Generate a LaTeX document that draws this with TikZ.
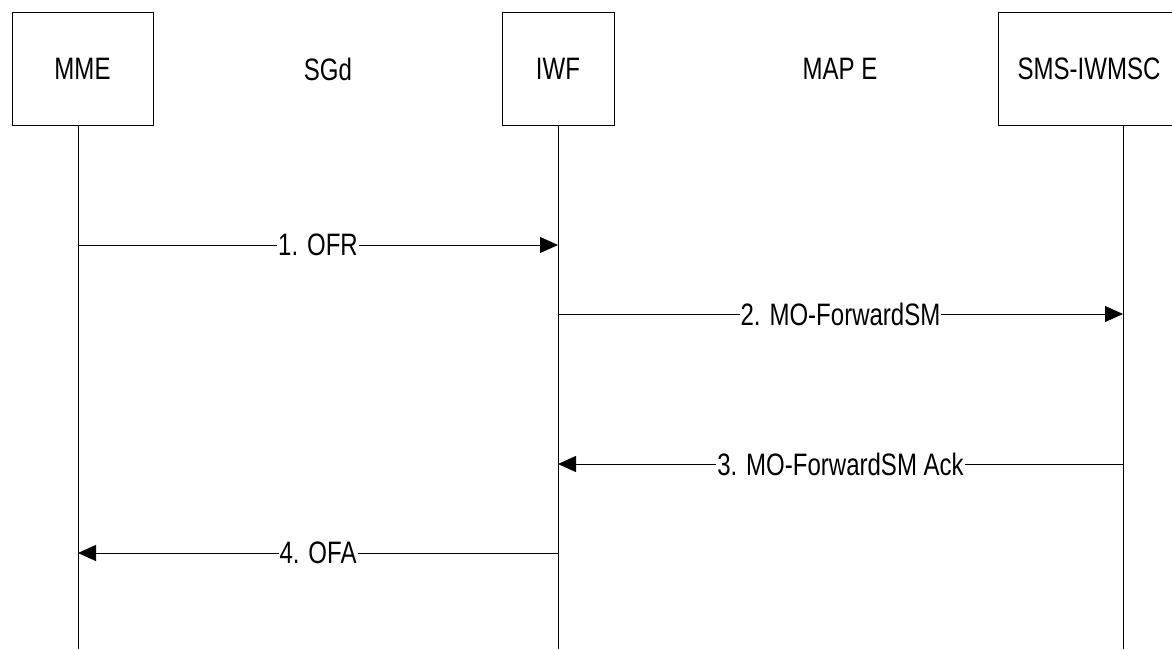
\documentclass[tikz,border=0pt]{standalone}
\usepackage{fontspec}
\setmainfont{Liberation Sans}[FakeStretch=0.775]
\usetikzlibrary{arrows.meta,calc}

\begin{document}
\begin{tikzpicture}[x=1pt,y=-1pt,line width=1pt,font=\fontsize{31}{36}\selectfont,
  entity/.style={draw,minimum height=113pt,inner sep=0pt},
  msg/.style={-{Triangle[length=18pt,width=16pt]}},
  msglabel/.style={fill=white,inner sep=1pt}]
\useasboundingbox (0,0) rectangle (1172,649);
\clip (0,0) rectangle (1172,649);
% entities
\node[entity,minimum width=141pt] (mme) at (82.5,68.5) {MME};
\node[entity,minimum width=112pt] (iwf) at (558,68.5) {IWF};
\node[entity,minimum width=182pt] (iwmsc) at (1089,68.5) {SMS-IWMSC};
\node (sgd) at (328,69) {SGd};
\node (mape) at (840,69) {MAP E};
% lifelines
\coordinate (mmeB) at (78,649); \coordinate (iwfB) at (558,649); \coordinate (iwmscB) at (1123,649);
\draw (mme.south -| mmeB) -- (mmeB);
\draw (iwf.south) -- (iwfB);
\draw (iwmsc.south -| iwmscB) -- (iwmscB);
% messages
\coordinate (A1) at (78,245); \coordinate (B1) at (558,245);
\coordinate (B2) at (558,314); \coordinate (C2) at (1123,314);
\coordinate (B3) at (558,464); \coordinate (C3) at (1123,464);
\coordinate (A4) at (78,553); \coordinate (B4) at (558,553);
\draw[msg] (A1) -- node[msglabel] {1. OFR} (B1);
\draw[msg] (B2) -- node[msglabel] {2. MO-ForwardSM} (C2);
\draw[msg] (C3) -- node[msglabel] {3. MO-ForwardSM Ack} (B3);
\draw[msg] (B4) -- node[msglabel] {4. OFA} (A4);
\end{tikzpicture}
\end{document}
